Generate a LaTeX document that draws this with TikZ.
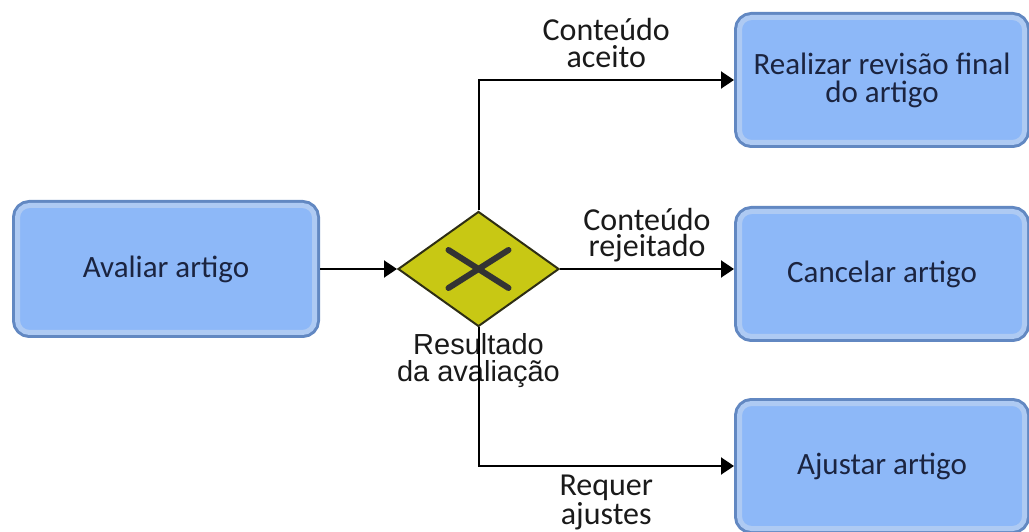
\documentclass[tikz,border=0pt]{standalone}
\usepackage{fontspec}
\setmainfont{Carlito}
\newfontfamily\gwfont{Liberation Sans}
\usepackage{xcolor}
\usepackage{tikz}
\usetikzlibrary{positioning,arrows.meta,shapes.geometric,calc}
\definecolor{boxfill}{HTML}{8DB8F8}
\definecolor{boxring}{HTML}{AECAF3}
\definecolor{boxedge}{HTML}{6288C2}
\definecolor{boxtext}{HTML}{1B2440}
\definecolor{gwfill}{HTML}{C8C814}
\definecolor{gwedge}{HTML}{2E2E14}
\definecolor{gwmark}{HTML}{333333}
\definecolor{labeltext}{HTML}{1A1A1A}
\tikzset{
    taskbox/.style={
        rectangle, rounded corners=6pt, fill=boxfill,
        draw=boxring, line width=2.5pt,
        preaction={draw=boxedge, line width=5.5pt},
        outer sep=2.75pt,
        minimum width=142.5pt, minimum height=62.5pt,
        font=\fontsize{15.5}{14}\selectfont, text=boxtext, align=center
    },
    gateway/.style={
        diamond, draw=gwedge, fill=gwfill, line width=1pt,
        inner sep=0pt, minimum width=80.5pt, minimum height=57.5pt
    },
    gwcross/.style={draw=gwmark, line width=3pt, line cap=round},
    gwlabel/.style={
        font=\gwfont\fontsize{14.5}{13.5}\selectfont, text=labeltext,
        align=center, inner sep=0pt
    },
    edgelabel/.style={
        font=\fontsize{16}{13.5}\selectfont, text=labeltext,
        align=center, inner sep=0pt, text depth=0pt
    },
    flow/.style={-{Triangle[length=6.5pt, width=8.5pt]}, line width=1pt, color=black},
}
\begin{document}
\begin{tikzpicture}[
        node distance=0pt and 38.5pt,
    ]
    \useasboundingbox (0,0) rectangle (514.5pt,265.5pt);
    \node[taskbox, minimum width=148.5pt, minimum height=63.5pt] (avaliar) at (83pt,131pt) {Avaliar artigo};
    \node[gateway, right=38.5pt of avaliar] (gw) {};
    \draw[gwcross] ([shift={(-15pt,9.5pt)}]gw.center) -- ([shift={(15pt,-9.5pt)}]gw.center);
    \draw[gwcross] ([shift={(-15pt,-9.5pt)}]gw.center) -- ([shift={(15pt,9.5pt)}]gw.center);
    \node[gwlabel, below=3pt of gw] (gwtext) {Resultado\\da avaliação};
    \node[taskbox, right=87pt of gw, yshift=-2.5pt] (cancelar) {Cancelar artigo};
    \node[taskbox, above=29pt of cancelar] (revisar) {Realizar revisão final\\do artigo};
    \node[taskbox, below=28pt of cancelar] (ajustar) {Ajustar artigo};
    \draw[flow] (avaliar) -- (gw.west);
    \draw[flow] (gw.north) |- node[edgelabel, pos=0.75, above=5.5pt] {Conteúdo\\aceito} (revisar.west);
    \draw[flow] (gw.east) -- node[edgelabel, midway, above=5.5pt] {Conteúdo\\rejeitado} (gw.east -| cancelar.west);
    \draw[flow] (gw.south) |- node[edgelabel, pos=0.75, below=4pt] {Requer\\ajustes} (ajustar.west);
\end{tikzpicture}
\end{document}
